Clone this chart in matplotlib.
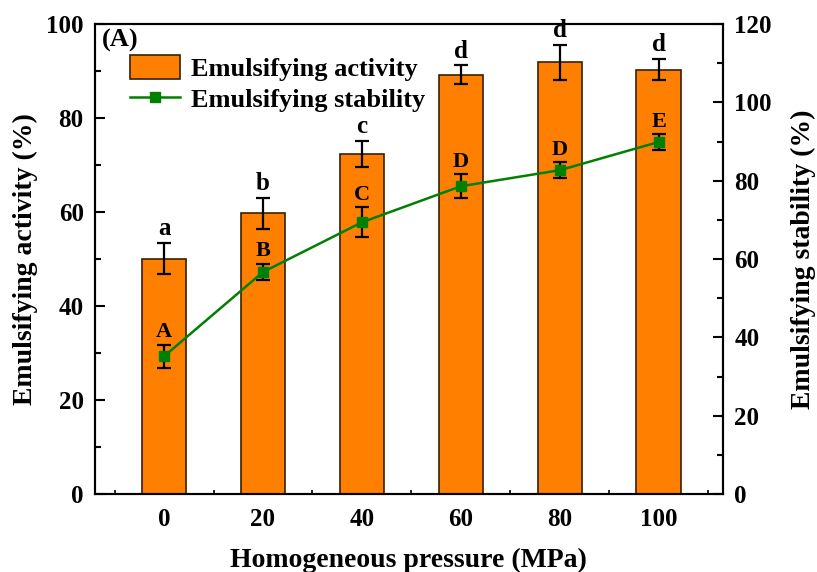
import matplotlib
matplotlib.use('Agg')
import matplotlib.pyplot as plt
from matplotlib.ticker import MultipleLocator

plt.rcParams['font.family'] = ['Liberation Serif', 'DejaVu Serif']
plt.rcParams['font.weight'] = 'bold'

# data
pressure = [0, 20, 40, 60, 80, 100]
activity = [50.1, 59.8, 72.4, 89.2, 91.9, 90.3]
activity_err = [3.3, 3.3, 2.8, 2.0, 3.7, 2.3]
activity_letters = ['a', 'b', 'c', 'd', 'd', 'd']
stability = [35.2, 56.7, 69.4, 78.6, 82.7, 89.9]
stability_err = [3.0, 2.1, 3.8, 3.1, 2.0, 2.0]
stability_letters = ['A', 'B', 'C', 'D', 'D', 'E']

fig = plt.figure(figsize=(8.17, 5.72), dpi=100)
ax1 = fig.add_axes([0.116, 0.136, 0.769, 0.822])
ax2 = ax1.twinx()

bars = ax1.bar(pressure, activity, width=9, color='#FF8000', edgecolor='#3a1f00',
               linewidth=1.2, label='Emulsifying activity', zorder=2)
ax1.errorbar(pressure, activity, yerr=activity_err, fmt='none', ecolor='black',
             elinewidth=1.6, capsize=5, capthick=1.6, zorder=3)
for x, y, e, t in zip(pressure, activity, activity_err, activity_letters):
    ax1.text(x, y + e + 0.6, t, ha='center', va='bottom', fontsize=18, fontweight='bold')

line, = ax2.plot(pressure, stability, color='#008000', linewidth=1.8, marker='s',
                 markersize=7, label='Emulsifying stability', zorder=4)
ax2.errorbar(pressure, stability, yerr=stability_err, fmt='none', ecolor='black',
             elinewidth=1.6, capsize=5, capthick=1.6, zorder=3)
for x, y, e, t in zip(pressure, stability, stability_err, stability_letters):
    ax2.text(x, y + e + 0.6, t, ha='center', va='bottom', fontsize=16, fontweight='bold')

ax1.set_xlim(-14, 113)
ax1.set_ylim(0, 100)
ax2.set_ylim(0, 120)
ax1.set_xticks(pressure)
ax1.xaxis.set_minor_locator(MultipleLocator(10))
ax1.yaxis.set_major_locator(MultipleLocator(20))
ax1.yaxis.set_minor_locator(MultipleLocator(10))
ax2.yaxis.set_major_locator(MultipleLocator(20))
ax2.yaxis.set_minor_locator(MultipleLocator(10))

ax1.tick_params(axis='y', which='major', direction='in', length=7, width=1.5, labelsize=18, pad=8)
ax1.tick_params(axis='y', which='minor', direction='in', length=4, width=1.5)
ax1.tick_params(axis='x', which='major', direction='in', length=3, width=1.2, labelsize=18, pad=10)
ax1.tick_params(axis='x', which='minor', direction='in', length=3, width=1.2)
ax2.tick_params(axis='y', which='major', direction='in', length=7, width=1.5, labelsize=18, pad=8)
ax2.tick_params(axis='y', which='minor', direction='in', length=4, width=1.5)

for ax in (ax1, ax2):
    for s in ax.spines.values():
        s.set_linewidth(1.5)

ax1.set_xlabel('Homogeneous pressure (MPa)', fontsize=20, fontweight='bold', labelpad=12)
ax1.set_ylabel('Emulsifying activity (%)', fontsize=20, fontweight='bold', labelpad=6)
ax2.set_ylabel('Emulsifying stability (%)', fontsize=20, fontweight='bold', labelpad=14)

ax1.text(0.012, 0.99, '(A)', transform=ax1.transAxes, ha='left', va='top',
         fontsize=19, fontweight='bold')

ax1.legend([bars, line], ['Emulsifying activity', 'Emulsifying stability'],
           loc='upper left', bbox_to_anchor=(0.039, 0.956), frameon=False,
           fontsize=19, handlelength=1.9, handleheight=1.0, handletextpad=0.4,
           borderaxespad=0, labelspacing=0.2)

fig.savefig('out.png', dpi=100)
